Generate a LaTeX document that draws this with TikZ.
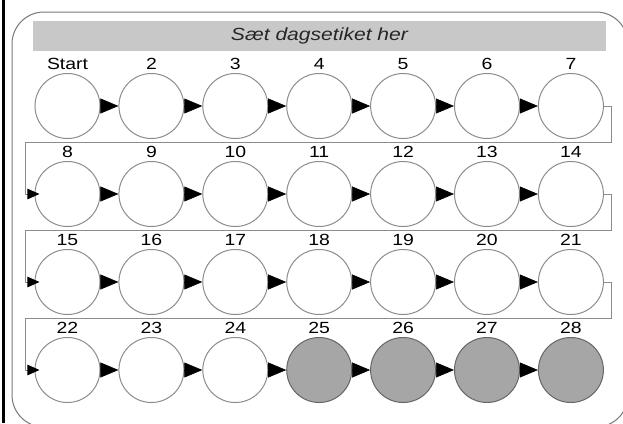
\documentclass[tikz,border=0pt]{standalone}
\usepackage{fontspec}
\setmainfont{Liberation Sans}
\newfontfamily\widefont[FakeStretch=1.2]{Liberation Sans}
\usetikzlibrary{arrows.meta, positioning}
\definecolor{colRing}{RGB}{140, 140, 140}
\definecolor{colFrame}{RGB}{120, 120, 120}
\definecolor{colDone}{RGB}{166, 166, 166}
\definecolor{colBar}{RGB}{200, 200, 200}

\begin{document}
\begin{tikzpicture}[
  x=0.25mm, y=-0.25mm,
  day/.style={circle, draw=colRing, line width=0.25mm, fill=white,
              minimum size=16.25mm, inner sep=0pt},
  daydone/.style={day, draw=black!60, fill=colDone},
  num/.style={font=\widefont\fontsize{11.5}{13}\selectfont, inner sep=0pt,
              above=0.7mm of #1},
  hop/.style={-{Triangle[length=4.5mm, width=3.75mm]}, black},
  wrap/.style={draw=colRing, line width=0.25mm,
               -{Triangle[length=3mm, width=2.6mm, color=black]}}
]
\useasboundingbox (0,0) rectangle (623,423);

% ---------- Cadre ----------
\begin{scope}
  \clip (0,0) rectangle (623,423);
  \draw[colFrame, line width=0.25mm, rounded corners=8mm]
    (12,12) rectangle (628,427);
\end{scope}
\draw[line width=0.6mm] (3.5,0) -- (3.5,423);

% ---------- Bandeau du titre ----------
\node[fill=colBar, minimum width=143.25mm, minimum height=7.5mm, inner sep=0pt,
      font=\widefont\fontsize{12.5}{14}\selectfont\itshape, text=black!85]
  (bar) at (319.5,36) {Sæt dagsetiket her};

% ---------- Les 28 jours ----------
\foreach \n in {1,...,28} {
  \pgfmathtruncatemacro\col{mod(\n-1,7)}
  \pgfmathtruncatemacro\row{(\n-1)/7}
  \ifnum\n>24
    \node[daydone] (c\n) at (67.5+83.9*\col, 106+88*\row) {};
  \else
    \node[day] (c\n) at (67.5+83.9*\col, 106+88*\row) {};
  \fi
  \node[num=c\n] (l\n) {\ifnum\n=1 Start\else\n\fi};
}

% ---------- Flèches ----------
\foreach \n in {1,...,27} {
  \pgfmathtruncatemacro\m{\n+1}
  \pgfmathtruncatemacro\col{mod(\n,7)}
  \ifnum\col=0
    \draw[wrap] (c\n.east) -- ++(8,0) -- ++(0,36)
      -| ([xshift=-2.25mm]c\m.west) -- ([xshift=1.25mm]c\m.west);
  \else
    \draw[hop] (c\n.east) -- (c\m.west);
  \fi
}

\end{tikzpicture}
\end{document}
